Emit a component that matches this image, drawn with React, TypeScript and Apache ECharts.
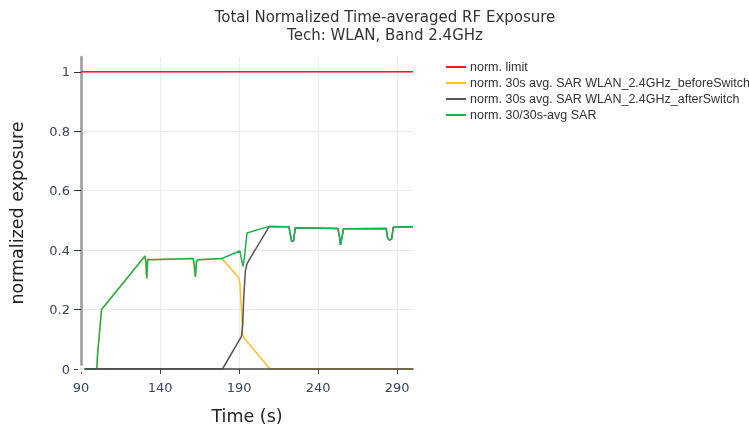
import React, { useEffect, useRef } from "react";
import * as echarts from "echarts";

const titleLines = ["Total Normalized Time-averaged RF Exposure", "Tech: WLAN, Band 2.4GHz"];
const seriesNames = [
  "norm. limit",
  "norm. 30s avg. SAR WLAN_2.4GHz_beforeSwitch",
  "norm. 30s avg. SAR WLAN_2.4GHz_afterSwitch",
  "norm. 30/30s-avg SAR",
];
const xTicks = [90, 140, 190, 240, 290];
const yTicks = [0, 0.2, 0.4, 0.6, 0.8, 1];

const limitData: number[][] = [[90, 1], [300, 1]];

const beforeSwitch: number[][] = [
  [90, 0], [100, 0], [100.5, 0.05], [103, 0.2], [130.5, 0.38], [131, 0.36], [131.6, 0.305],
  [132.2, 0.37], [133, 0.368], [161, 0.372], [161.8, 0.34], [162.4, 0.31], [163, 0.36],
  [164, 0.368], [179, 0.372], [189.5, 0.31], [190.5, 0.29], [191.5, 0.2], [192.3, 0.115],
  [193, 0.105], [209.5, 0], [300, 0],
];

const afterSwitch: number[][] = [
  [90, 0], [179.5, 0], [191.5, 0.11], [192.3, 0.15], [193, 0.25], [194, 0.33], [195, 0.355],
  [209, 0.479], [221.5, 0.479], [222.5, 0.45], [223.2, 0.43], [224.5, 0.432], [225.5, 0.475],
  [252.5, 0.473], [253.5, 0.445], [254.2, 0.418], [255, 0.44], [256, 0.472], [283, 0.473],
  [284, 0.44], [285, 0.434], [286.5, 0.437], [287.5, 0.477], [300, 0.479],
];

const combined: number[][] = [
  [90, 0], [100, 0], [100.5, 0.05], [103, 0.2], [130.5, 0.38], [131, 0.36], [131.6, 0.305],
  [132.2, 0.37], [133, 0.368], [161, 0.372], [161.8, 0.34], [162.4, 0.31], [163, 0.36],
  [164, 0.368], [179, 0.372], [190.5, 0.397], [191.5, 0.37], [192.5, 0.345], [193.5, 0.38],
  [195, 0.458], [209, 0.48], [221.5, 0.479], [222.5, 0.45], [223.2, 0.43], [224.5, 0.432],
  [225.5, 0.475], [252.5, 0.473], [253.5, 0.445], [254.2, 0.418], [255, 0.44], [256, 0.472],
  [283, 0.473], [284, 0.44], [285, 0.434], [286.5, 0.437], [287.5, 0.477], [300, 0.479],
];

const originPoint: number[][] = [[90, 0]];

const colors = ["#ff1a1a", "#ffc020", "#555555", "#1fb050"];
const FONT = "DejaVu Sans";
const LFONT = "Liberation Sans";

export default function App() {
  const ref = useRef<HTMLDivElement>(null);
  useEffect(() => {
    document.body.style.margin = "0";
    const chart = echarts.init(ref.current!, null, { renderer: "svg" });
    const lineSeries = [limitData, beforeSwitch, afterSwitch, combined].map((d, i) => ({
      type: "line",
      name: seriesNames[i],
      data: d,
      xAxisIndex: 0,
      yAxisIndex: 0,
      showSymbol: false,
      symbol: "none",
      lineStyle: { color: colors[i], width: 1.5 },
      itemStyle: { color: colors[i] },
      z: 2 + i,
    }));
    chart.setOption({
      animation: false,
      textStyle: { fontFamily: FONT },
      title: {
        text: titleLines.join("\n"),
        left: 380,
        textAlign: "center",
        top: 3,
        textStyle: { fontSize: 15, fontWeight: "normal", color: "#333", lineHeight: 18, fontFamily: FONT },
      },
      legend: {
        data: seriesNames.map((n, i) => ({ name: n, icon: "path://M0,0 L20,0 L20,2 L0,2 Z", itemStyle: { color: colors[i] } })),
        orient: "vertical",
        left: 446,
        top: 60,
        padding: 0,
        itemWidth: 20,
        itemHeight: 2,
        itemGap: 2,
        textStyle: { fontSize: 12.5, lineHeight: 14, color: "#333", fontFamily: LFONT, padding: [0, 0, 0, -1] },
      },
      grid: { left: 81, right: 336, top: 57, bottom: 60, containLabel: false },
      xAxis: [
        {
          type: "value",
          min: 90,
          max: 300,
          interval: 50,
          name: "Time (s)",
          nameLocation: "middle",
          nameGap: 38,
          nameTextStyle: { fontSize: 17.5, color: "#222", fontFamily: FONT },
          axisLine: { show: false },
          axisTick: { show: true, length: 5, lineStyle: { color: "#444" }, customValues: xTicks },
          axisLabel: { fontSize: 13, color: "#3a4560", margin: 12, customValues: xTicks },
          splitLine: { show: true, lineStyle: { color: "#ebebeb", width: 1 } },
        },
        {
          type: "value",
          min: 90,
          max: 300,
          interval: 50,
          position: "bottom",
          offset: 0,
          z: 20,
          axisLine: { show: true, onZero: false, lineStyle: { color: "#444", width: 1.5 } },
          axisTick: { show: false },
          axisLabel: { show: false },
          splitLine: { show: false },
        },
      ],
      yAxis: {
        type: "value",
        min: 0,
        max: 1.05,
        interval: 0.2,
        name: "normalized exposure",
        nameLocation: "middle",
        nameGap: 55,
        nameTextStyle: { fontSize: 17.5, color: "#222", fontFamily: FONT },
        axisLine: { show: true, lineStyle: { color: "#999", width: 2.5 } },
        axisTick: { show: true, length: 7, lineStyle: { color: "#333" }, customValues: yTicks },
        axisLabel: {
          fontSize: 13, color: "#3a4560", margin: 11, customValues: yTicks,
          formatter: (v: number) => String(Math.round(v * 10) / 10),
        },
        splitLine: { show: true, lineStyle: { color: "#ebebeb", width: 1 } },
      },
      series: [
        ...lineSeries,
        {
          type: "scatter",
          name: "origin",
          data: originPoint,
          xAxisIndex: 0,
          symbol: "emptyCircle",
          symbolSize: 5,
          itemStyle: { color: "#fff", borderColor: "#222", borderWidth: 1 },
          z: 30,
          zlevel: 0,
          silent: true,
        },
      ],
    });
    return () => chart.dispose();
  }, []);
  return <div ref={ref} style={{ position: "fixed", left: 0, top: 0, width: 749, height: 430 }} />;
}
